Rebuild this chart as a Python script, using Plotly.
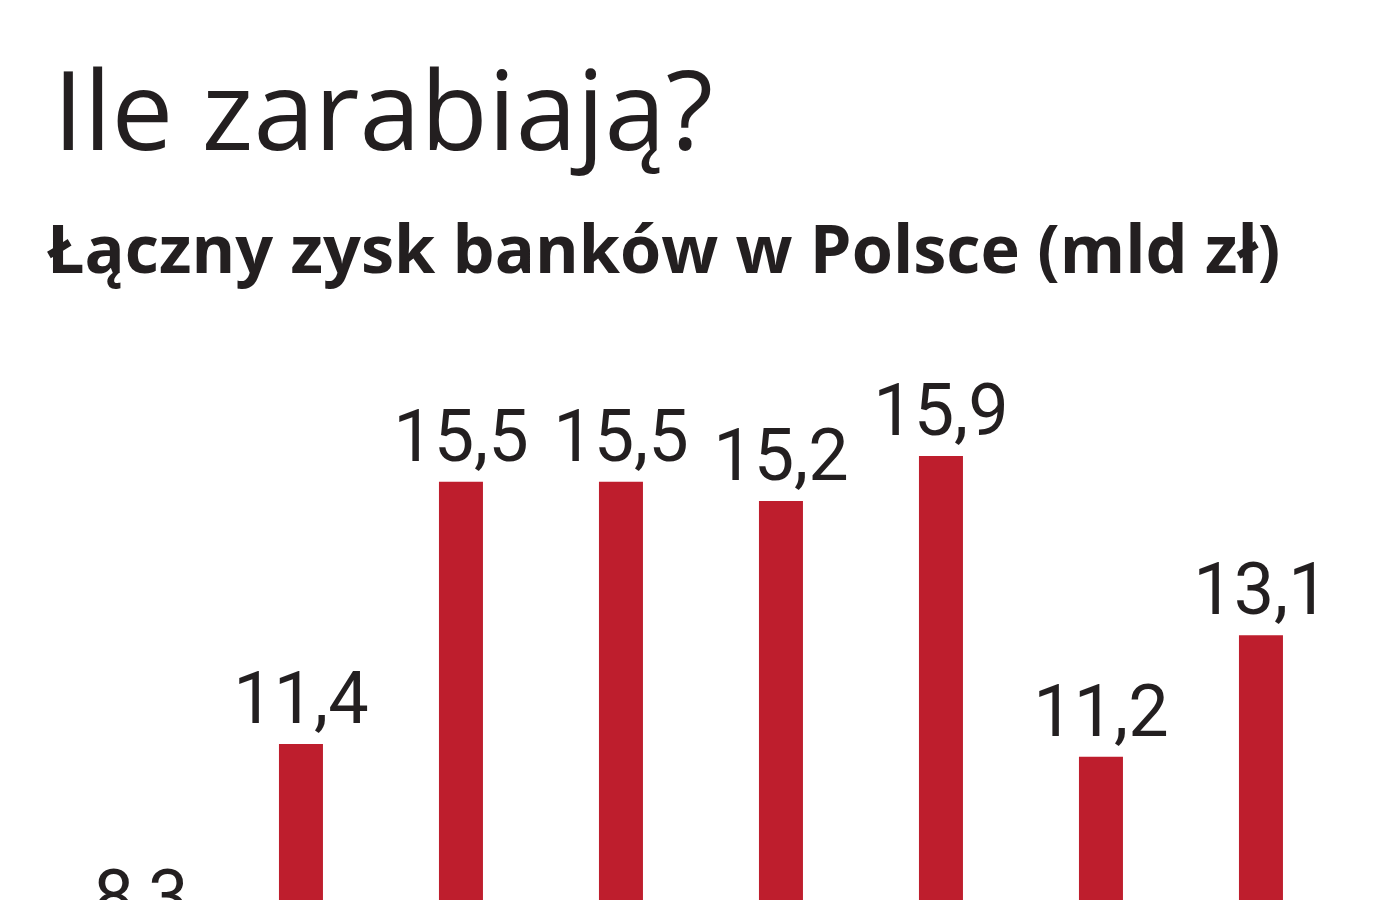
import plotly.graph_objects as go

years = ["2009", "2010", "2011", "2012", "2013", "2014", "2015", "2016"]
profits = [8.3, 11.4, 15.5, 15.5, 15.2, 15.9, 11.2, 13.1]
labels = [f"{v:.1f}".replace(".", ",") for v in profits]

title_text = "Ile zarabiają?"
subtitle_text = "Łączny zysk banków w Polsce (mld zł)"

BAR_COLOR = "#be1e2d"
TEXT_COLOR = "#231f20"

label_font = dict(family="Roboto", size=72, color=TEXT_COLOR)

fig = go.Figure()
fig.add_trace(go.Bar(
    x=years, y=profits, width=0.275,
    marker=dict(color=BAR_COLOR, line=dict(width=0)),
    text=labels, textposition="outside", constraintext="none",
    textfont=label_font,
    cliponaxis=True, hoverinfo="skip",
))

fig.update_layout(
    width=1400, height=900,
    margin=dict(l=0, r=0, t=0, b=0),
    paper_bgcolor="white", plot_bgcolor="white",
    showlegend=False,
    xaxis=dict(type="category", range=[-0.831, 7.919], visible=False, fixedrange=True),
    yaxis=dict(range=[8.837, 22.904], visible=False, fixedrange=True),
    annotations=[
        dict(text=title_text, xref="paper", yref="paper", x=43/1400, y=1 - 176/900,
             xanchor="left", yanchor="bottom", showarrow=False,
             font=dict(family="Open Sans", size=110, color=TEXT_COLOR)),
        dict(text="<b>" + subtitle_text + "</b>", xref="paper", yref="paper", x=37/1400, y=1 - 287/900,
             xanchor="left", yanchor="bottom", showarrow=False,
             font=dict(family="Open Sans", size=66.6, color=TEXT_COLOR)),
    ],
)

fig.write_html("out.html")
